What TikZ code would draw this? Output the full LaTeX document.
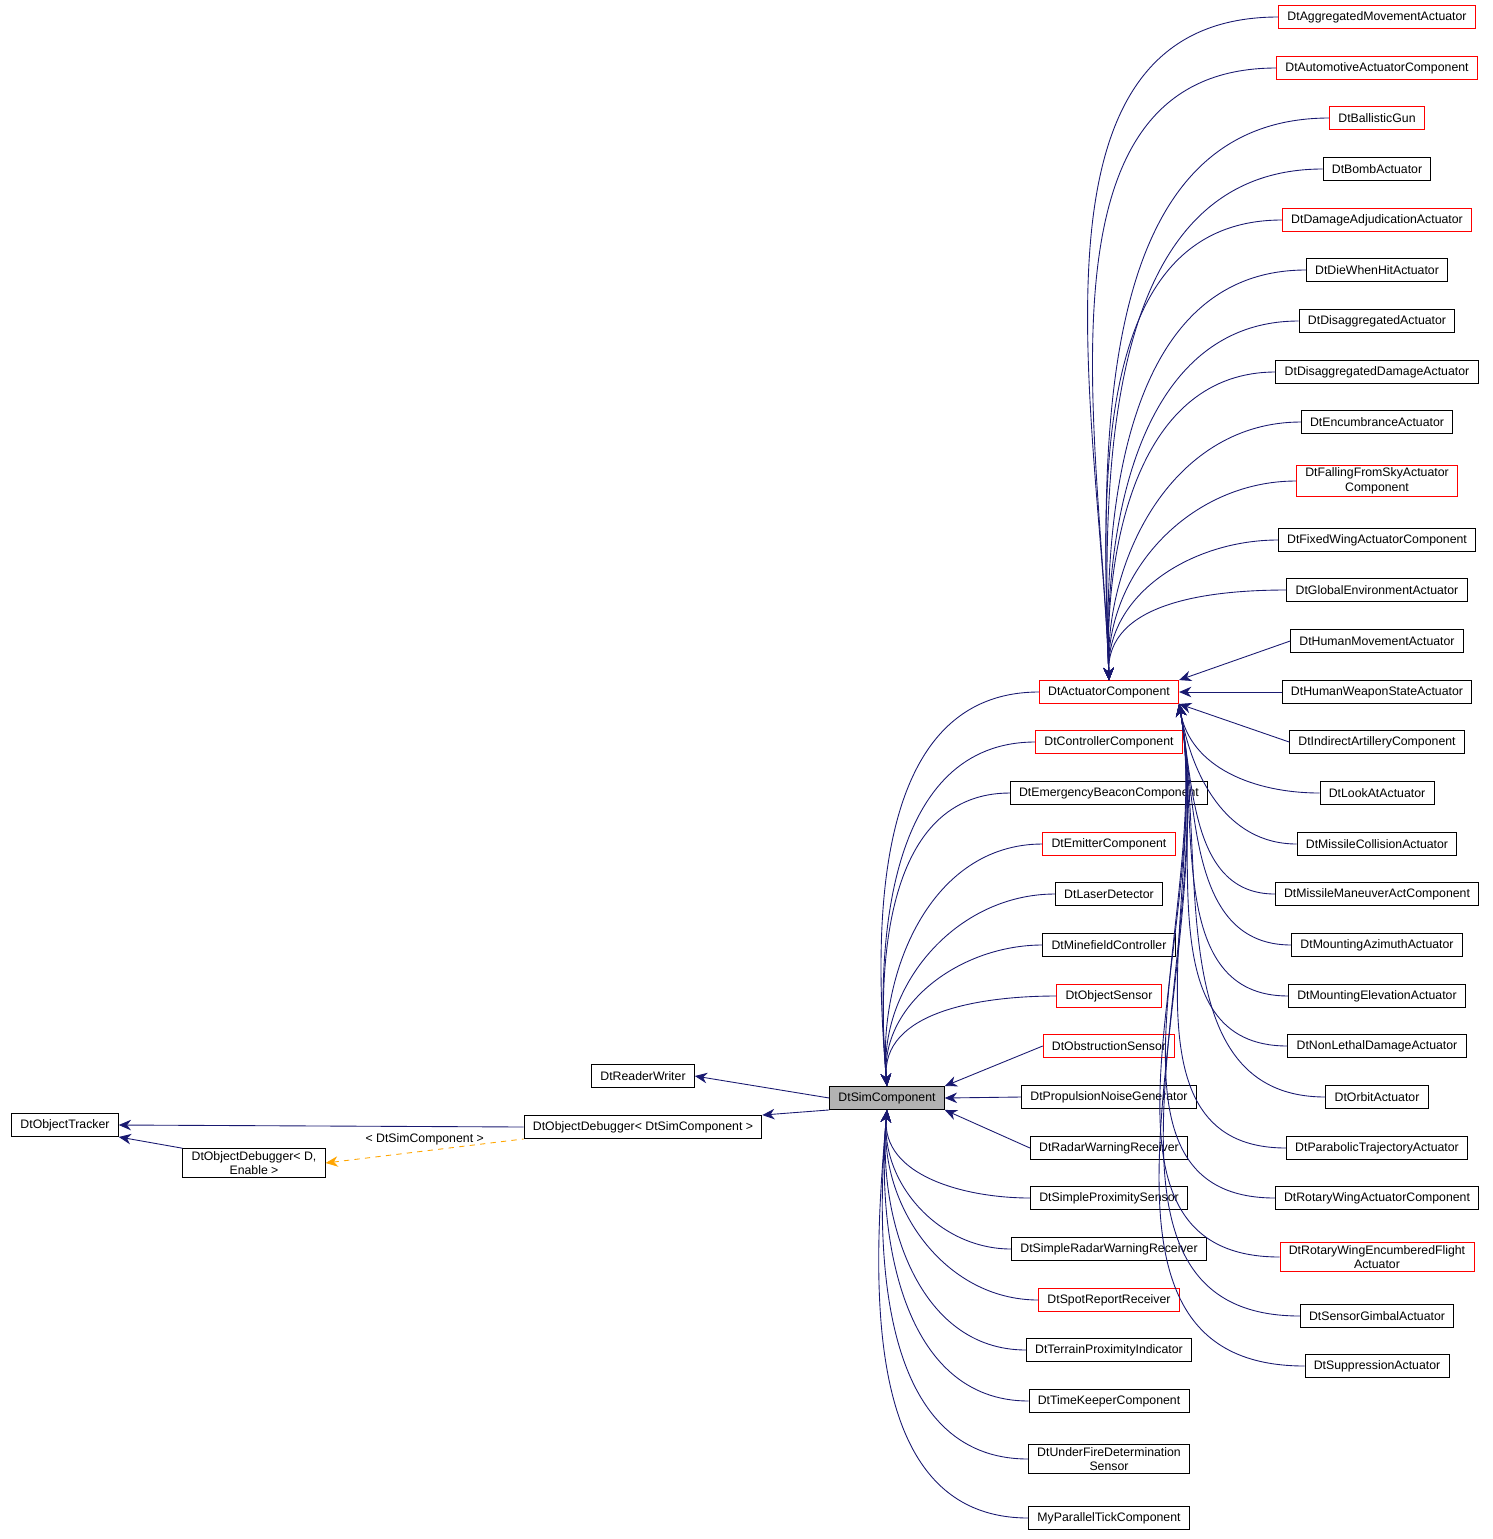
\documentclass[tikz,border=0pt]{standalone}
\usepackage{fontspec}
\setmainfont{Liberation Sans}
\usetikzlibrary{arrows.meta}
\definecolor{edgeblue}{RGB}{25,25,112}
\definecolor{tmplorange}{RGB}{255,165,0}
\tikzset{
	cls/.style={draw, fill=white, font=\fontsize{7}{8.2}\selectfont, inner xsep=5pt, inner ysep=1.5pt, minimum height=0.46cm, align=center, line width=0.5pt},
	red cls/.style={cls, draw=red},
	inh/.style={edgeblue, line width=0.5pt, {Stealth[length=7pt,width=6pt]}-},
	tmpl/.style={tmplorange, dashed, line width=0.5pt, {Stealth[length=7pt,width=6pt]}-}
}
\begin{document}
\begin{tikzpicture}[x=0.02cm, y=-0.02cm]
		\useasboundingbox (0,0) rectangle (1493,1539);

		% left part
		\node[cls] (tracker) at (65,1125) {DtObjectTracker};
		\node[cls] (dbgD) at (254,1163) {DtObjectDebugger< D,\\Enable >};
		\node[cls] (rw) at (643,1076) {DtReaderWriter};
		\node[cls] (dbgS) at (643,1127) {DtObjectDebugger< DtSimComponent >};
		\node[cls, fill=black!30] (sim) at (887,1098) {DtSimComponent};

		\draw[inh] (tracker.east) -- (dbgS.west);
		\draw[inh] (tracker.south east) -- (dbgD.north west);
		\draw[tmpl] (dbgD.east) -- (dbgS.south west) node[above, midway, black, font=\fontsize{7}{8}\selectfont]{< DtSimComponent >};
		\draw[inh] (rw.east) -- (sim.west);
		\draw[inh] (dbgS.north east) -- (sim.south west);

		% middle column
		\node[red cls] (act) at (1109,692) {DtActuatorComponent};
		\node[red cls] (ctrl) at (1109,742) {DtControllerComponent};
		\node[cls] (beacon) at (1109,793) {DtEmergencyBeaconComponent};
		\node[red cls] (emit) at (1109,844) {DtEmitterComponent};
		\node[cls] (laser) at (1109,894) {DtLaserDetector};
		\node[cls] (mine) at (1109,945) {DtMinefieldController};
		\node[red cls] (objsens) at (1109,996) {DtObjectSensor};
		\node[red cls] (obstr) at (1109,1046) {DtObstructionSensor};
		\node[cls] (prop) at (1109,1097) {DtPropulsionNoiseGenerator};
		\node[cls] (radar) at (1109,1148) {DtRadarWarningReceiver};
		\node[cls] (prox) at (1109,1198) {DtSimpleProximitySensor};
		\node[cls] (sradar) at (1109,1249) {DtSimpleRadarWarningReceiver};
		\node[red cls] (spot) at (1109,1300) {DtSpotReportReceiver};
		\node[cls] (terrain) at (1109,1350) {DtTerrainProximityIndicator};
		\node[cls] (time) at (1109,1401) {DtTimeKeeperComponent};
		\node[cls] (fire) at (1109,1459) {DtUnderFireDetermination\\Sensor};
		\node[cls] (tick) at (1109,1518) {MyParallelTickComponent};

		\foreach \c in {act,ctrl,beacon,emit,laser,mine,objsens}
			\draw[inh] (sim.north) to[out=95, in=180] (\c.west);
		\draw[inh] (sim.north east) -- (obstr.west);
		\draw[inh] (sim.east) -- (prop.west);
		\draw[inh] (sim.south east) -- (radar.west);
		\foreach \c in {prox,sradar,spot,terrain,time,fire,tick}
			\draw[inh] (sim.south) to[out=-95, in=180] (\c.west);

		% right column
		\node[red cls] (r1) at (1377,17) {DtAggregatedMovementActuator};
		\node[red cls] (r2) at (1377,68) {DtAutomotiveActuatorComponent};
		\node[red cls] (r3) at (1377,118) {DtBallisticGun};
		\node[cls] (r4) at (1377,169) {DtBombActuator};
		\node[red cls] (r5) at (1377,220) {DtDamageAdjudicationActuator};
		\node[cls] (r6) at (1377,270) {DtDieWhenHitActuator};
		\node[cls] (r7) at (1377,321) {DtDisaggregatedActuator};
		\node[cls] (r8) at (1377,372) {DtDisaggregatedDamageActuator};
		\node[cls] (r9) at (1377,422) {DtEncumbranceActuator};
		\node[red cls] (r10) at (1377,481) {DtFallingFromSkyActuator\\Component};
		\node[cls] (r11) at (1377,540) {DtFixedWingActuatorComponent};
		\node[cls] (r12) at (1377,590) {DtGlobalEnvironmentActuator};
		\node[cls] (r13) at (1377,641) {DtHumanMovementActuator};
		\node[cls] (r14) at (1377,692) {DtHumanWeaponStateActuator};
		\node[cls] (r15) at (1377,742) {DtIndirectArtilleryComponent};
		\node[cls] (r16) at (1377,793) {DtLookAtActuator};
		\node[cls] (r17) at (1377,844) {DtMissileCollisionActuator};
		\node[cls] (r18) at (1377,894) {DtMissileManeuverActComponent};
		\node[cls] (r19) at (1377,945) {DtMountingAzimuthActuator};
		\node[cls] (r20) at (1377,996) {DtMountingElevationActuator};
		\node[cls] (r21) at (1377,1046) {DtNonLethalDamageActuator};
		\node[cls] (r22) at (1377,1097) {DtOrbitActuator};
		\node[cls] (r23) at (1377,1148) {DtParabolicTrajectoryActuator};
		\node[cls] (r24) at (1377,1198) {DtRotaryWingActuatorComponent};
		\node[red cls] (r25) at (1377,1257) {DtRotaryWingEncumberedFlight\\Actuator};
		\node[cls] (r26) at (1377,1316) {DtSensorGimbalActuator};
		\node[cls] (r27) at (1377,1366) {DtSuppressionActuator};

		\foreach \c in {r1,r2,r3,r4,r5,r6,r7,r8,r9,r10,r11,r12}
			\draw[inh] (act.north) to[out=92, in=180] (\c.west);
		\draw[inh] (act.north east) -- (r13.west);
		\draw[inh] (act.east) -- (r14.west);
		\draw[inh] (act.south east) -- (r15.west);
		\foreach \c in {r16,r17,r18,r19,r20,r21,r22,r23,r24,r25,r26,r27}
			\draw[inh] (act.south east) to[out=-80, in=180] (\c.west);
	\end{tikzpicture}
\end{document}
